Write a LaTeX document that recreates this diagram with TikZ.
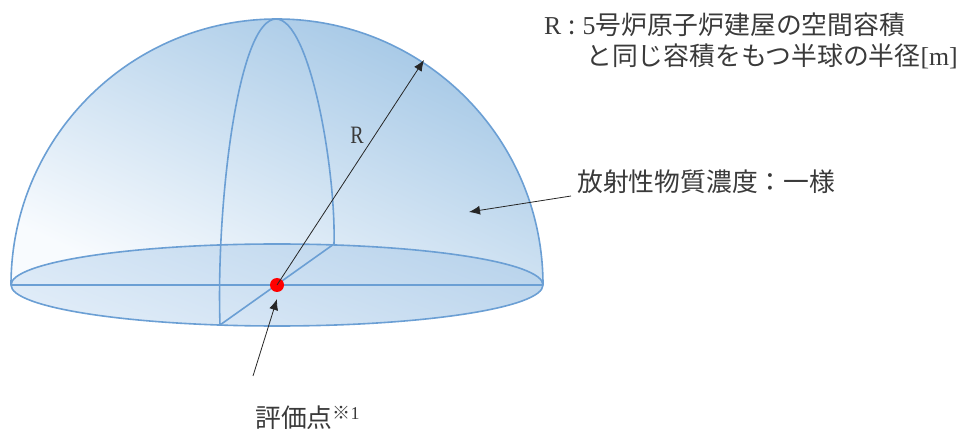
\documentclass[tikz,border=0pt]{standalone}
\usepackage{fontspec}
\setmainfont{Liberation Serif}
\newfontfamily\jp{Noto Sans CJK JP}
\definecolor{edgeblue}{HTML}{6B9FD4}
\definecolor{domelight}{HTML}{F8FBFE}
\definecolor{domedark}{HTML}{A2C6E5}
\definecolor{floorlight}{HTML}{E0ECF8}
\definecolor{floordark}{HTML}{BAD4EC}
\definecolor{inkgray}{HTML}{3A3A3A}
\usetikzlibrary{arrows.meta}
\tikzset{
  wire/.style={draw=edgeblue,line width=1.6pt},
  pointer/.style={draw=black!85,line width=0.8pt,-{Latex[length=11pt,width=9pt]}},
  jplabel/.style={inner sep=0pt,anchor=west,text=inkgray,font=\fontsize{25.8}{28}\selectfont\jp},
}
\begin{document}
\begin{tikzpicture}[x=1pt,y=-1pt]
\useasboundingbox (0,0) rectangle (961,435);
% dome body
\shade[bottom color=domelight,top color=domedark,shading angle=-25]
  (11,285) arc[start angle=180,end angle=360,x radius=266,y radius=266] -- cycle;
% floor
\shade[bottom color=floorlight,top color=floordark,shading angle=-20]
  (277,285) ellipse[x radius=266,y radius=41];
% outlines
\draw[wire] (11,285) arc[start angle=180,end angle=360,x radius=266,y radius=266];
\draw[wire] (277,285) ellipse[x radius=266,y radius=41];
\coordinate (west) at (11,285);
\coordinate (east) at (543,285);
\coordinate (front) at (220,325);
\coordinate (back) at (334,244);
\coordinate (apex) at (276,19);
\coordinate (rimhit) at (424,60);
\draw[wire] (west) -- (east);
\draw[wire] (front) -- (back);
\draw[wire] (front) .. controls (216,205) and (238,19) .. (apex)
  .. controls (310,19) and (336,170) .. (back);
% evaluation point
\node[circle,fill=red,draw=none,minimum size=14pt,inner sep=0pt] (pt) at (277,285) {};
% labels
\node[jplabel] (line1) at (544,25) {{\rmfamily\fontsize{25.8}{28}\selectfont R}\hspace{7pt}:\hspace{7pt}{\rmfamily\fontsize{25.8}{28}\selectfont 5}号炉原子炉建屋の空間容積};
\node[jplabel] (line2) at (586,56) {と同じ容積をもつ半球の半径{\rmfamily\fontsize{25.8}{28}\selectfont [m]}};
\node[jplabel] (conc) at (577,182) {放射性物質濃度：一様};
\node[jplabel] (evalp) at (255,418) {評価点\raisebox{8pt}{\fontsize{18}{20}\selectfont ※{\rmfamily\fontsize{18}{20}\selectfont 1}}};
\node[inner sep=0pt,text=inkgray,font=\fontsize{25}{28}\selectfont] (rlab) at (357,135) {\scalebox{.8}[1]{R}};
% pointers
\coordinate (concfrom) at (571,196);
\coordinate (concto) at (469,212);
\coordinate (evalfrom) at (253,376);
\coordinate (evalto) at (277,299);
\draw[pointer] (pt.center) -- (rimhit);
\draw[pointer] (concfrom) -- (concto);
\draw[pointer] (evalfrom) -- (evalto);
\end{tikzpicture}
\end{document}
